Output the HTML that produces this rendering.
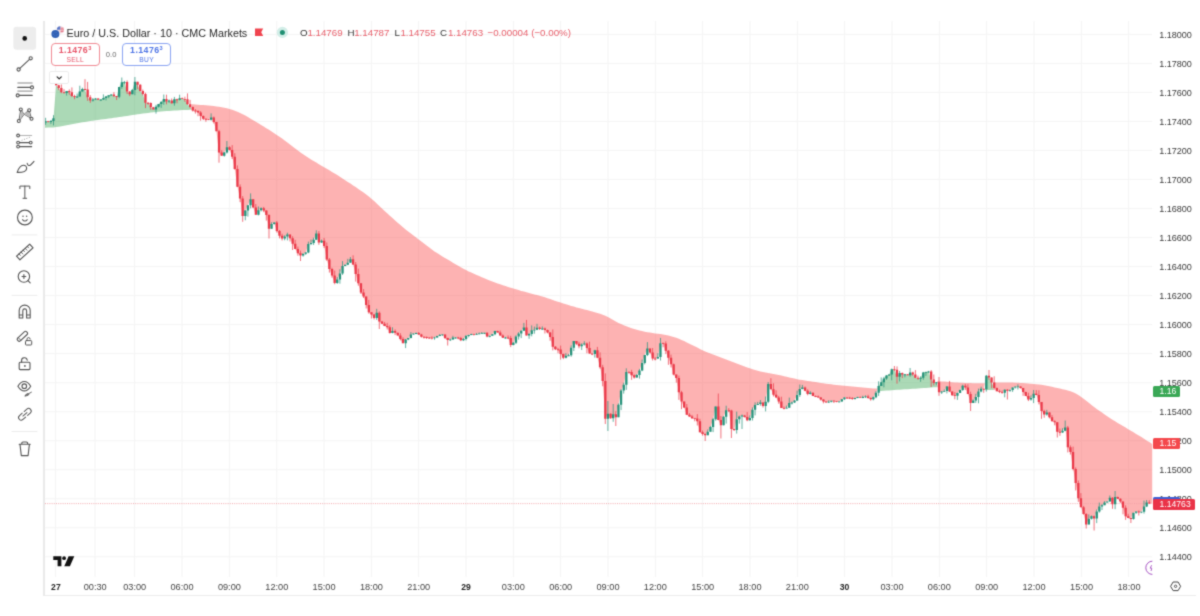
<!DOCTYPE html><html><head><meta charset="utf-8"><title>EURUSD</title><style>
*{margin:0;padding:0;box-sizing:border-box}
html,body{width:1200px;height:616px;background:#fff;overflow:hidden}
body{position:relative;font-family:"Liberation Sans",sans-serif;color:#333}
.wrap{position:absolute;left:0;top:0;width:1200px;height:616px;filter:url(#soft)}
.abs{position:absolute;white-space:nowrap;line-height:1}
.chart{position:absolute;left:0;top:0}
.sep{position:absolute;left:42.6px;top:21px;width:2.2px;height:575px;background:#e9e9e9}
.bot{position:absolute;left:44px;top:594.8px;width:1152px;height:1.2px;background:#ececec}
.pl{position:absolute;left:1159.2px;font-size:9.05px;color:#3a3a3a;line-height:10px;height:10px;letter-spacing:0}
.tl{position:absolute;top:581.6px;font-size:9.2px;color:#444;line-height:10px;height:10px;transform:translateX(-50%)}
.tl.b{font-weight:bold;color:#222;font-size:8.6px}
.tag{position:absolute;left:1152.6px;color:#fff;font-size:8.6px;border-radius:1.5px;line-height:11px;height:11px;padding-left:7px}
.tb{position:absolute;left:0;top:0}
.title{left:66.6px;top:27.8px;font-size:10.78px;color:#2b2b2b}
.ohlc{top:27.9px;font-size:9.75px}
.k{color:#333}.v{color:#e8606c}
.box{position:absolute;top:43.4px;height:22.4px;border-radius:4px;border:1px solid;background:#fff;text-align:center}
.box .p{position:absolute;left:0;right:0;top:1.7px;font-size:8.8px;font-weight:bold;line-height:9px;letter-spacing:0.42px}
.box .p sup{font-size:5.6px;vertical-align:top;position:relative;top:-0.6px;line-height:6px;font-weight:bold}
.box .l{position:absolute;left:0;right:0;top:11.3px;font-size:6.7px;line-height:7px;letter-spacing:0.3px}
.sell{left:50.7px;width:49px;border-color:#f08a93;color:#e8566a}
.buy{left:122.3px;width:48.6px;border-color:#8aa4f2;color:#4f75e6}
.collapse{position:absolute;left:49.4px;top:71.2px;width:19.8px;height:12.6px;border:1px solid #ececec;border-radius:2px;background:#fff}
</style></head><body><svg width="0" height="0" style="position:absolute"><filter id="soft" x="0" y="0" width="100%" height="100%" color-interpolation-filters="sRGB"><feConvolveMatrix order="3" kernelMatrix="0.03 0.10 0.03 0.10 0.48 0.10 0.03 0.10 0.03" divisor="1" edgeMode="duplicate" preserveAlpha="false"/></filter></svg><div class="wrap">
<svg class="chart" width="1200" height="616" viewBox="0 0 1200 616">
<path d="M55.6 21.0V577.0M95 21.0V577.0M134.6 21.0V577.0M182 21.0V577.0M229.3 21.0V577.0M276.7 21.0V577.0M324 21.0V577.0M371.3 21.0V577.0M418.6 21.0V577.0M466 21.0V577.0M513.3 21.0V577.0M560.6 21.0V577.0M608 21.0V577.0M655.3 21.0V577.0M702.6 21.0V577.0M750 21.0V577.0M797.3 21.0V577.0M844.6 21.0V577.0M892 21.0V577.0M939.3 21.0V577.0M986.6 21.0V577.0M1034 21.0V577.0M1081.3 21.0V577.0M1128.6 21.0V577.0M45.0 34.3H1152.2M45.0 63.3H1152.2M45.0 92.4H1152.2M45.0 121.4H1152.2M45.0 150.4H1152.2M45.0 179.4H1152.2M45.0 208.5H1152.2M45.0 237.5H1152.2M45.0 266.5H1152.2M45.0 295.6H1152.2M45.0 324.6H1152.2M45.0 353.6H1152.2M45.0 382.7H1152.2M45.0 411.7H1152.2M45.0 440.7H1152.2M45.0 469.8H1152.2M45.0 498.8H1152.2M45.0 527.8H1152.2M45.0 556.8H1152.2" stroke="#f4f4f4" stroke-width="1" fill="none"/>
<path d="M45 121.2L45.6 121.2L48.2 121.7L50.9 121L53.5 118.2L56.1 85.2L58.7 88.1L61.4 92.2L64 93L66.6 91L69.3 92.3L71.9 96.1L74.5 96.8L77.1 96.6L79.8 91.5L82.4 89L85 89.5L87.6 97.3L90.3 100.6L92.9 99.5L95.5 98.6L98.2 99.8L100.8 99.6L103.4 98L106 96.6L108.7 95.3L111.3 94.5L113.9 96L116.6 96.7L119.2 87.1L121.8 82.3L124.4 81.9L127.1 91.6L129.7 94.2L132.3 90L134.9 81.8L137.6 84.8L140.2 90.9L142.8 94.1L145.5 102.8L148.1 102.9L150.7 107.3L153.3 109.4L156 106.8L158.6 104L161.2 101.8L163.8 98.9L166.5 101.4L169.1 100.5L171.7 103.3L174.4 99.3L177 99.7L179.6 98.2L182.2 98.9L184.9 99.2L187.5 104.2L190.1 107L191.5 108.9L191.5 109.6L190.1 109.7L187.5 109.9L184.9 110L182.2 110.1L179.6 110.3L177 110.4L174.4 110.6L171.7 110.8L169.1 110.9L166.5 111.1L163.8 111.3L161.2 111.5L158.6 111.7L156 112L153.3 112.3L150.7 112.6L148.1 112.9L145.5 113.2L142.8 113.5L140.2 113.9L137.6 114.3L134.9 114.7L132.3 115.1L129.7 115.5L127.1 115.9L124.4 116.3L121.8 116.7L119.2 117.1L116.6 117.5L113.9 117.8L111.3 118.2L108.7 118.6L106 118.9L103.4 119.3L100.8 119.6L98.2 119.9L95.5 120.3L92.9 120.7L90.3 121L87.6 121.4L85 121.9L82.4 122.3L79.8 122.7L77.1 123.2L74.5 123.7L71.9 124.2L69.3 124.7L66.6 125.3L64 125.8L61.4 126.3L58.7 126.8L56.1 127.1L53.5 127.4L50.9 127.5L48.2 127.6L45.6 127.7L45 127.7Z" fill="rgba(76,175,100,0.47)"/>
<path d="M191.5 108.9L192.8 110.6L195.4 111L198 112.6L200.6 116L203.3 118.8L205.9 119.2L208.5 119.8L211.1 117.5L213.8 121.9L216.4 131.2L219 152.4L221.7 155.7L224.3 152.4L226.9 147.2L229.5 149.9L232.2 156.8L234.8 169L237.4 186.8L240.1 198.5L242.7 216.1L245.3 210.6L247.9 205.3L250.6 199.3L253.2 207.5L255.8 214.8L258.4 210.3L261.1 208.2L263.7 210.4L266.3 215.1L269 228.8L271.6 224L274.2 222.5L276.8 231L279.5 235.7L282.1 238.5L284.7 236.5L287.4 234.5L290 238.2L292.6 243.8L295.2 249.1L297.9 253.3L300.5 255.5L303.1 253.7L305.7 252.4L308.4 244L311 242.9L313.6 239.8L316.3 233.4L318.9 242.4L321.5 240.7L324.1 246.1L326.8 259.4L329.4 269L332 275.6L334.7 282.9L337.3 279.4L339.9 273.5L342.5 266.1L345.2 264.7L347.8 262.7L350.4 259.3L353.1 264.4L355.7 273.9L358.3 283.3L360.9 292.6L363.6 296.5L366.2 304.9L368.8 312.3L371.4 314.5L374.1 318L376.7 312.8L379.3 321.4L382 323.8L384.6 326.1L387.2 327.3L389.8 333L392.5 331.1L395.1 332.7L397.7 335.4L400.4 338.9L403 343.2L405.6 339.5L408.2 337.9L410.9 334.4L413.5 333.5L416.1 333.1L418.7 334.4L421.4 336.8L424 337.1L426.6 337.6L429.3 337.7L431.9 338.3L434.5 337.4L437.1 336L439.8 335L442.4 334.4L445 338L447.7 340.1L450.3 339.4L452.9 337.5L455.5 337.5L458.2 338L460.8 340.3L463.4 339L466 335.8L468.7 335L471.3 333.9L473.9 334.6L476.6 333.9L479.2 333.4L481.8 332.9L484.4 332.8L487.1 336.6L489.7 335.8L492.3 334.2L495 331L497.6 332.6L500.2 335.6L502.8 337.8L505.5 337.6L508.1 338L510.7 344.9L513.3 342.7L516 336.5L518.6 333.6L521.2 330.7L523.9 327.5L526.5 335.4L529.1 334L531.7 330.3L534.4 329.7L537 327.7L539.6 328.9L542.3 328.6L544.9 330L547.5 332.5L550.1 337L552.8 346.8L555.4 349.3L558 349.4L560.6 354.1L563.3 357.7L565.9 355.8L568.5 355.3L571.2 347.8L573.8 341L576.4 343.8L579 346.3L581.7 344.5L584.3 343.4L586.9 347.9L589.5 353.6L592.2 354.1L594.8 350.3L597.4 357.7L600.1 367.3L602.7 381.1L605.3 418.7L607.9 413.8L610.6 418.3L613.2 414.3L615.8 417.2L618.5 404.8L621.1 390.6L623.7 384.7L626.3 371.9L629 372L631.6 375.2L634.2 377.4L636.8 374.9L639.5 370.5L642.1 362.9L644.7 354.9L647.4 348.6L650 352.5L652.6 358.5L655.2 358.6L657.9 356.9L660.5 343.2L663.1 343.5L665.8 350.8L668.4 357.8L671 364.3L673.6 374.6L676.3 378L678.9 392.2L681.5 401.6L684.1 407.4L686.8 414.8L689.4 416.6L692 418.2L694.7 418.4L697.3 421.2L699.9 432.3L702.5 434L705.2 435.2L707.8 431.7L710.4 426.9L713.1 419.3L715.7 406.5L718.3 420.1L720.9 425.3L723.6 416.8L726.2 410.3L728.8 410.4L731.4 429.1L734.1 430L736.7 419.3L739.3 416.5L742 415.5L744.6 416.9L747.2 420.3L749.8 418.1L752.5 409.8L755.1 405L757.7 404.1L760.4 402.5L763 406.1L765.6 401.8L768.2 384.1L770.9 389.3L773.5 394.7L776.1 397.4L778.7 401.4L781.4 407.9L784 408.6L786.6 407.7L789.3 403.1L791.9 402.6L794.5 400.5L797.1 394.9L799.8 388.9L802.4 387.4L805 390.7L807.7 393.9L810.3 392.8L812.9 396L815.5 396.5L818.2 397.4L820.8 399.4L823.4 401.6L826 402.3L828.7 401.7L831.3 400.7L833.9 401.2L836.6 401.7L839.2 401.4L841.8 399.3L844.4 397.5L847.1 397.8L849.7 397.9L852.3 399.1L855 398L857.6 396.9L860.2 397.2L862.8 397.1L865.5 396.4L868.1 397.9L870.7 399.2L873.3 397.2L876 392.7L878 387.6L878 388.8L876 388.6L873.3 388.4L870.7 388.2L868.1 388L865.5 387.8L862.8 387.6L860.2 387.3L857.6 387.1L855 386.8L852.3 386.6L849.7 386.3L847.1 386L844.4 385.8L841.8 385.5L839.2 385.2L836.6 384.9L833.9 384.7L831.3 384.3L828.7 384L826 383.7L823.4 383.3L820.8 382.9L818.2 382.5L815.5 382.1L812.9 381.7L810.3 381.3L807.7 380.9L805 380.5L802.4 380.1L799.8 379.7L797.1 379.2L794.5 378.6L791.9 378.1L789.3 377.4L786.6 376.8L784 376.2L781.4 375.6L778.7 375L776.1 374.5L773.5 374L770.9 373.6L768.2 373.1L765.6 372.6L763 372L760.4 371.4L757.7 370.7L755.1 370L752.5 369.2L749.8 368.3L747.2 367.4L744.6 366.4L742 365.5L739.3 364.5L736.7 363.5L734.1 362.5L731.4 361.4L728.8 360.4L726.2 359.4L723.6 358.4L720.9 357.4L718.3 356.5L715.7 355.5L713.1 354.6L710.4 353.6L707.8 352.5L705.2 351.4L702.5 350.2L699.9 349L697.3 347.6L694.7 346.3L692 345L689.4 343.7L686.8 342.4L684.1 341.1L681.5 339.9L678.9 338.8L676.3 337.8L673.6 336.9L671 336.2L668.4 335.5L665.8 335L663.1 334.5L660.5 334.1L657.9 333.7L655.2 333.4L652.6 333.1L650 332.6L647.4 332.2L644.7 331.7L642.1 331.1L639.5 330.5L636.8 329.8L634.2 329L631.6 328.2L629 327.3L626.3 326.3L623.7 325.3L621.1 324.1L618.5 322.9L615.8 321.5L613.2 320L610.6 318.5L607.9 317.1L605.3 315.8L602.7 314.7L600.1 313.7L597.4 312.9L594.8 312.2L592.2 311.5L589.5 310.8L586.9 310.1L584.3 309.5L581.7 308.8L579 308.1L576.4 307.4L573.8 306.6L571.2 305.9L568.5 305.1L565.9 304.3L563.3 303.5L560.6 302.6L558 301.8L555.4 300.9L552.8 300L550.1 299.1L547.5 298.2L544.9 297.3L542.3 296.6L539.6 295.8L537 295.1L534.4 294.4L531.7 293.8L529.1 293.1L526.5 292.3L523.9 291.6L521.2 290.9L518.6 290.1L516 289.3L513.3 288.5L510.7 287.7L508.1 286.9L505.5 286L502.8 285.2L500.2 284.3L497.6 283.4L495 282.4L492.3 281.5L489.7 280.4L487.1 279.4L484.4 278.3L481.8 277.2L479.2 276.1L476.6 275L473.9 273.8L471.3 272.6L468.7 271.4L466 270.1L463.4 268.7L460.8 267.3L458.2 265.8L455.5 264.3L452.9 262.7L450.3 261.1L447.7 259.6L445 258L442.4 256.4L439.8 254.8L437.1 253.1L434.5 251.4L431.9 249.5L429.3 247.6L426.6 245.6L424 243.5L421.4 241.4L418.7 239.4L416.1 237.4L413.5 235.4L410.9 233.5L408.2 231.5L405.6 229.5L403 227.3L400.4 225.1L397.7 222.8L395.1 220.5L392.5 218.1L389.8 215.7L387.2 213.3L384.6 210.9L382 208.5L379.3 206L376.7 203.5L374.1 201.1L371.4 198.8L368.8 196.6L366.2 194.5L363.6 192.5L360.9 190.7L358.3 188.9L355.7 187.1L353.1 185.4L350.4 183.6L347.8 181.9L345.2 180.2L342.5 178.5L339.9 176.8L337.3 175.1L334.7 173.5L332 171.9L329.4 170.3L326.8 168.8L324.1 167.3L321.5 165.8L318.9 164.2L316.3 162.6L313.6 161L311 159.4L308.4 157.8L305.7 156.1L303.1 154.3L300.5 152.5L297.9 150.6L295.2 148.6L292.6 146.5L290 144.4L287.4 142.4L284.7 140.4L282.1 138.5L279.5 136.7L276.8 134.9L274.2 133.2L271.6 131.5L269 129.8L266.3 128.2L263.7 126.5L261.1 124.9L258.4 123.3L255.8 121.8L253.2 120.2L250.6 118.7L247.9 117.1L245.3 115.6L242.7 114.2L240.1 112.9L237.4 111.8L234.8 110.7L232.2 109.8L229.5 109L226.9 108.3L224.3 107.7L221.7 107.2L219 106.8L216.4 106.4L213.8 106.1L211.1 105.8L208.5 105.6L205.9 105.3L203.3 105.1L200.6 104.9L198 104.8L195.4 104.6L192.8 104.3L191.5 104.2Z" fill="rgba(251,80,80,0.44)"/>
<path d="M878 387.6L878.6 386L881.2 382.3L883.9 378.4L886.5 375.5L889.1 374.4L891.7 369.2L894.4 369.7L897 376.7L899.6 373.1L902.3 374.6L904.9 374.3L907.5 375.3L910.1 372.4L912.8 374.6L915.4 377.8L918 378.4L920.6 377.8L923.3 372.5L925.9 371.9L928.5 371.5L931.2 379.4L933.8 383.1L936.4 382.3L937.5 386.3L937.5 387.1L936.4 387.2L933.8 387.3L931.2 387.5L928.5 387.7L925.9 387.9L923.3 388.1L920.6 388.3L918 388.5L915.4 388.7L912.8 388.8L910.1 389L907.5 389.2L904.9 389.3L902.3 389.5L899.6 389.7L897 389.8L894.4 390L891.7 390.2L889.1 390.4L886.5 390.6L883.9 390.8L881.2 391L878.6 391.2L878 391.2Z" fill="rgba(76,175,100,0.47)"/>
<path d="M937.5 386.3L939 392.2L941.7 391.6L944.3 390.9L946.9 386.6L949.6 391.4L952.2 395.2L954.8 395.7L957.4 393L960.1 389.9L962.7 385.7L965.3 387.5L967.9 394.1L970.6 402.9L973.2 400.6L975.8 397.1L978.5 391.5L981.1 388.8L983.7 389.2L985.3 381.1L985.3 383.2L983.7 383.2L981.1 383.3L978.5 383.3L975.8 383.2L973.2 383.2L970.6 383.1L967.9 383L965.3 382.9L962.7 382.8L960.1 382.7L957.4 382.5L954.8 382.4L952.2 382.2L949.6 382.1L946.9 381.8L944.3 381.6L941.7 381.4L939 381.1L937.5 381Z" fill="rgba(251,80,80,0.44)"/>
<path d="M985.3 381.1L986.3 375.8L989 377.4L991.6 382.4L993.7 386.8L993.7 390L991.6 390L989 390L986.3 390L985.3 390Z" fill="rgba(76,175,100,0.47)"/>
<path d="M993.7 386.8L994.2 387.9L996.9 391.2L999.5 391.9L1002.1 392.8L1004.7 389.8L1007.4 390.8L1010 389.9L1012.6 387.4L1015.2 386.7L1017.9 386.4L1020.5 387.9L1023.1 392.1L1025.8 396L1028.4 399.6L1031 397.9L1033.6 393.7L1036.3 395.1L1038.9 402.1L1041.5 411.1L1044.2 414.5L1046.8 412.5L1049.4 417.3L1052 421.3L1054.7 422.2L1057.3 431.8L1059.9 432.6L1062.5 430.8L1065.2 427.4L1067.8 447.2L1070.4 451.9L1073.1 468.9L1075.7 482.9L1078.3 498.3L1080.9 507.2L1083.6 514L1086.2 524.4L1088.8 518.7L1091.5 516.2L1094.1 518.4L1096.7 511.6L1099.3 506.6L1102 505.2L1104.6 502.5L1107.2 501.5L1109.8 497.8L1112.5 504.2L1115.1 497L1117.7 498.7L1120.4 501.6L1123 507.7L1125.6 516.3L1128.2 518.1L1130.9 519L1133.5 512.8L1136.1 511.5L1138.8 512L1141.4 511.7L1144 506.5L1146.6 502.4L1149.3 503.6L1152.2 503.6L1152.2 444L1149.3 442.1L1146.6 440.4L1144 438.7L1141.4 437.1L1138.8 435.5L1136.1 433.9L1133.5 432.3L1130.9 430.8L1128.2 429.2L1125.6 427.6L1123 426.1L1120.4 424.5L1117.7 422.9L1115.1 421.3L1112.5 419.7L1109.8 418L1107.2 416.2L1104.6 414.5L1102 412.6L1099.3 410.8L1096.7 408.9L1094.1 406.9L1091.5 404.9L1088.8 402.8L1086.2 400.7L1083.6 398.7L1080.9 396.7L1078.3 394.9L1075.7 393.4L1073.1 392.2L1070.4 391.2L1067.8 390.4L1065.2 389.8L1062.5 389.2L1059.9 388.6L1057.3 388.1L1054.7 387.4L1052 386.8L1049.4 386.2L1046.8 385.7L1044.2 385.2L1041.5 384.8L1038.9 384.5L1036.3 384.2L1033.6 384L1031 383.7L1028.4 383.5L1025.8 383.3L1023.1 383.1L1020.5 382.9L1017.9 382.8L1015.2 382.7L1012.6 382.6L1010 382.6L1007.4 382.6L1004.7 382.6L1002.1 382.6L999.5 382.6L996.9 382.6L994.2 382.6L993.7 382.6Z" fill="rgba(251,80,80,0.44)"/>
<path d="M45.0 503.6H1152.2" stroke="#f2a0a6" stroke-width="0.9" stroke-dasharray="1 1.2" fill="none"/>
<path d="M48.2 120.9V122.4M56.1 79.7V85.2M58.7 84.8V90.2M61.4 84.5V93.2M64 89.1V93.7M69.3 89.4V94.7M71.9 87.4V97.1M74.5 94.7V99.2M85 79.2V89.9M87.6 81.9V100.8M90.3 95.1V102.8M98.2 98.3V99.8M113.9 92.1V97.1M116.6 96V100M127.1 80.4V94M129.7 91.2V96.1M137.6 81.8V89.2M140.2 84.1V91.5M142.8 89.5V95.5M145.5 92.7V108.1M148.1 102.2V104.7M150.7 102.4V109.8M153.3 106.9V109.4M166.5 94.7V104.3M171.7 98.5V103.7M177 98.7V103.3M182.2 97.6V99.1M184.9 96.7V101.9M187.5 93.4V104.7M190.1 99.9V108.3M192.8 106.5V111.5M195.4 109.1V113.6M198 110.3V116.2M200.6 111.1V120.7M203.3 115.5V120.1M205.9 118.5V121.8M208.5 119V120.1M213.8 116.5V123.5M216.4 121.9V131.2M219 129.8V162.7M221.7 150.3V155.7M229.5 146.3V150.3M232.2 145.1V159M234.8 153.2V169.7M237.4 165.4V186.8M240.1 184.4V202.1M242.7 196.1V221.8M253.2 199.3V207.5M255.8 204.1V214.8M263.7 206.9V212.2M266.3 210.4V220.6M269 214.3V238.5M276.8 221V232.5M279.5 230V238.4M282.1 233.7V240.5M290 234.5V241.5M292.6 236.2V250M295.2 239.8V249.1M297.9 246.6V255.7M300.5 250.6V261M318.9 231V244.8M324.1 237.9V248M326.8 242.5V260.9M329.4 258V272.6M332 267.7V277.7M334.7 270.6V284.3M353.1 255.3V265M355.7 262V281.6M358.3 268.6V285.7M360.9 283.3V294M363.6 289.1V298M366.2 296.5V308.5M368.8 299.9V313.7M371.4 312.3V318.5M374.1 314.1V319.5M379.3 311.4V329M382 321V323.8M384.6 321.9V326.1M387.2 322.8V329.5M389.8 325.3V333.6M395.1 329.4V335.1M397.7 332.7V335.4M400.4 333.2V340.4M403 337.2V343.2M418.7 332V334.9M421.4 333.8V337.6M424 336.5V338.6M426.6 336.5V339M429.3 337.2V338.8M431.9 336.3V339.5M445 334.4V339M447.7 337.7V345.5M458.2 336.8V339.3M460.8 336.8V341.1M473.9 333.8V335.5M487.1 332.4V337.3M497.6 330.7V332.6M500.2 330.5V335.6M502.8 334.4V337.9M508.1 335.4V339M510.7 335.8V347.1M526.5 319.9V335.4M539.6 326.6V330M544.9 327.5V333.5M547.5 329.6V333.3M550.1 332V340.8M552.8 329.4V350.4M555.4 346V350.1M558 347.8V353.3M560.6 345.6V359.6M563.3 353.6V359.2M576.4 341V345.1M579 341.8V348.3M586.9 342.4V353.3M589.5 341.7V353.6M592.2 353.6V355.1M597.4 346.9V357.7M600.1 352.4V368.7M602.7 364.9V386.3M605.3 373.4V424M610.6 413.3V418.8M615.8 411.2V426M629 371.3V373.8M631.6 369.8V379.8M634.2 374.4V378.6M650 348.6V353.4M652.6 348V360.5M655.2 357.1V360.4M663.1 342.6V347.3M665.8 341.3V354.1M668.4 350.1V364.8M671 354.6V367.5M673.6 363.6V375.3M676.3 374.6V382.7M678.9 375.6V399.9M681.5 390.8V409.2M684.1 401.6V408M686.8 404V414.8M689.4 413.1V416.9M692 414.9V418.9M694.7 418.2V421.3M697.3 414.1V425.5M699.9 418.8V432.3M702.5 430.6V435.7M705.2 433.4V441M718.3 393.5V420.1M720.9 416V438.5M728.8 408.1V412.2M731.4 409.7V438M734.1 428.8V431M744.6 414.9V417.5M747.2 412.1V421.2M763 402.5V407.6M770.9 378.2V389.3M773.5 383.3V396.5M776.1 390.3V397.4M778.7 395.9V403.7M781.4 396.7V407.9M784 406.4V409.4M805 386.5V391.1M807.7 389.3V395.3M812.9 392.4V396M815.5 395.5V397.1M818.2 395.5V397.4M820.8 397.1V400.6M823.4 399.2V403.4M826 401.5V402.5M833.9 400.3V403M836.6 401.2V402.3M847.1 397.3V399M849.7 396.8V399.1M852.3 397.2V399.8M860.2 396.5V397.9M868.1 394.8V398.7M870.7 397.5V400.7M894.4 366V371M897 366.4V383.7M902.3 372.5V378.1M907.5 374V375.3M912.8 371.7V375.9M915.4 370.1V378.2M918 375.6V379.7M931.2 370.1V387M933.8 374.5V385.4M939 377V395.8M949.6 380.9V392M952.2 391.4V395.7M954.8 392.1V399.3M965.3 383.9V390M967.9 384.3V394.1M970.6 391.7V411M983.7 388.8V392.8M989 370V379.8M991.6 377.4V388.2M994.2 376.3V389.8M996.9 387.5V391.2M999.5 389.7V393.1M1002.1 390.5V393.8M1007.4 389.2V399.5M1020.5 386.4V388.5M1023.1 387.9V395.8M1025.8 391.7V396M1028.4 392.7V401.1M1036.3 390.1V395.1M1038.9 390.3V404.3M1041.5 402.1V418.8M1044.2 409.7V417.7M1049.4 411.9V418.4M1052 415V421.3M1054.7 420.3V425.3M1057.3 422.2V437.5M1059.9 428.6V435.8M1067.8 425.9V452.4M1070.4 445.4V454.5M1073.1 446.6V470.3M1075.7 467.4V490.5M1078.3 480.5V501.9M1080.9 493.1V507.2M1083.6 505.9V514.6M1086.2 513.2V528.5M1094.1 515.5V530.5M1112.5 497.2V508.8M1117.7 496.6V499.1M1120.4 498.3V502.9M1123 501.6V514.3M1125.6 505.3V519.9M1128.2 513.8V518.1M1130.9 518.1V523M1138.8 510.5V515.5M1149.3 500.2V503.9" stroke="#ea3a4a" stroke-width="0.9" opacity="0.8" fill="none"/>
<path d="M45.6 117.8V124.8M50.9 120V124.1M53.5 115.2V125.4M66.6 91V95.6M77.1 93.5V97.8M79.8 85.7V96.6M82.4 87.7V91.5M92.9 98V101.6M95.5 98.3V99.8M100.8 99.3V100.8M103.4 94.4V99.9M106 96V100.4M108.7 95.3V98.2M111.3 94.5V95.7M119.2 87.1V98.2M121.8 77.5V88.9M124.4 80.9V84.2M132.3 89.1V94.2M134.9 77V95.3M156 104.8V113.6M158.6 104V107.6M161.2 101.8V107.9M163.8 94.5V104.8M169.1 99.5V102.9M174.4 96.9V105.7M179.6 94.7V100.4M211.1 113.4V120.5M224.3 152V156.6M226.9 141V153.5M245.3 210.1V220.3M247.9 205.3V216.6M250.6 193.4V208.3M258.4 206.5V215.4M261.1 207.4V211.5M271.6 222.2V228.8M274.2 222.5V224.6M284.7 235.3V240.3M287.4 232.7V240.4M303.1 253.7V256.7M305.7 252.1V254.8M308.4 241.6V253.2M311 239.6V245.1M313.6 237.7V245M316.3 230.3V239.8M321.5 239.6V243M337.3 277.1V283.8M339.9 269.2V283.7M342.5 261.1V274.9M345.2 264.7V266.1M347.8 258.8V265.1M350.4 257V262.7M376.7 308.8V319.9M392.5 327.3V333.3M405.6 339V348.1M408.2 337.9V340.2M410.9 332.1V338.3M413.5 333.5V334.7M416.1 332.6V334.1M434.5 336.8V339.7M437.1 335.8V337.7M439.8 334V336.1M442.4 334.3V335.8M450.3 338.7V341M452.9 335.8V339.7M455.5 337.2V338.6M463.4 338V341M466 335.6V340.5M468.7 334.8V337.4M471.3 333.8V335.2M476.6 332.9V334.9M479.2 332.5V334.3M481.8 332V333.8M484.4 332.8V334M489.7 335.8V337.3M492.3 334.2V335.8M495 330.8V335.2M505.5 336.9V338.6M513.3 342V345.3M516 335.3V344M518.6 332.2V339.6M521.2 330.3V338.1M523.9 322.9V330.7M529.1 333V338.8M531.7 325.4V336.3M534.4 326.6V333.7M537 323.8V330.1M542.3 326.4V330M565.9 353.2V358.4M568.5 353.9V356.2M571.2 345.4V356.7M573.8 341V351M581.7 343.3V350M584.3 341.2V345.5M594.8 349.8V357.6M607.9 401V431M613.2 404V421.8M618.5 403.4V417.2M621.1 389.2V410.1M623.7 382.7V393.6M626.3 368.3V389.9M636.8 374.1V377.8M639.5 368.8V378.6M642.1 359.5V371.2M644.7 354.9V364.4M647.4 342.1V356.1M657.9 353.2V358.9M660.5 337.9V360.5M707.8 429.4V435.2M710.4 425.9V431.7M713.1 417.9V432.1M715.7 406.5V420.7M723.6 416.1V425.3M726.2 405.7V423.6M736.7 411.6V433.6M739.3 415.7V423.6M742 414.5V429M749.8 415.4V420.7M752.5 407.4V420.5M755.1 402.4V415.4M757.7 401.9V405M760.4 400V405.7M765.6 396.5V411.4M768.2 382V403.2M786.6 405.5V408.6M789.3 397.6V407.7M791.9 401.6V404.5M794.5 400.1V403M797.1 390.7V401M799.8 384.5V396.9M802.4 384.9V389.3M810.3 391.2V394.5M828.7 400.3V403M831.3 400.7V402.4M839.2 401.4V402.4M841.8 399.1V401.7M844.4 397.3V400M855 397.8V399.5M857.6 396.8V398.2M862.8 395.7V398.2M865.5 395.4V398M873.3 396.5V400.4M876 391V398.2M878.6 381.3V395.9M881.2 377.4V386M883.9 376.8V387.4M886.5 375.1V379.8M889.1 374.4V375.8M891.7 368.6V380.3M899.6 370.9V381.5M904.9 374.3V377.4M910.1 368V376.7M920.6 376.3V381.8M923.3 371.9V379.7M925.9 371.6V375.9M928.5 370.9V372.7M936.4 382V385.3M941.7 391.1V394M944.3 389.4V391.8M946.9 386.1V393.4M957.4 392.6V399.9M960.1 389.5V393M962.7 384.7V390.9M973.2 399.4V402.9M975.8 393.8V402.9M978.5 388.6V403.3M981.1 386.7V392.3M986.3 375V391.6M1004.7 389.4V397.3M1010 389.4V391.8M1012.6 387.4V391.9M1015.2 386.1V388.6M1017.9 384.3V389.5M1031 395.4V400.7M1033.6 390V403.1M1046.8 409.8V415.7M1062.5 428.2V432.9M1065.2 420.5V431.2M1088.8 514.4V524.4M1091.5 515.5V519.5M1096.7 509.4V523.1M1099.3 502.6V512.7M1102 504.1V510M1104.6 501.1V505.2M1107.2 501.5V502.8M1109.8 495.5V501.5M1115.1 491V509.2M1133.5 512.8V519.6M1136.1 511.5V513.9M1141.4 511.7V513.2M1144 500.6V513.6M1146.6 500V507" stroke="#26927a" stroke-width="0.9" opacity="0.8" fill="none"/>
<path d="M47.1 121.2h2.3V122.1h-2.3ZM55 79.7h2.3V85.2h-2.3ZM57.6 85.2h2.3V88.1h-2.3ZM60.2 88.1h2.3V92.2h-2.3ZM62.8 92.2h2.3V93.1h-2.3ZM68.1 91h2.3V92.3h-2.3ZM70.7 92.3h2.3V96.1h-2.3ZM73.4 96.1h2.3V97h-2.3ZM83.9 89h2.3V89.9h-2.3ZM86.5 89.5h2.3V97.3h-2.3ZM89.1 97.3h2.3V100.6h-2.3ZM97 98.6h2.3V99.8h-2.3ZM112.8 94.5h2.3V96h-2.3ZM115.4 96h2.3V96.9h-2.3ZM125.9 81.9h2.3V91.6h-2.3ZM128.5 91.6h2.3V94.2h-2.3ZM136.4 81.8h2.3V84.8h-2.3ZM139.1 84.8h2.3V90.9h-2.3ZM141.7 90.9h2.3V94.1h-2.3ZM144.3 94.1h2.3V102.8h-2.3ZM146.9 102.8h2.3V103.7h-2.3ZM149.6 102.9h2.3V107.3h-2.3ZM152.2 107.3h2.3V109.4h-2.3ZM165.3 98.9h2.3V101.4h-2.3ZM170.6 100.5h2.3V103.3h-2.3ZM175.8 99.3h2.3V100.2h-2.3ZM181.1 98.2h2.3V99.1h-2.3ZM183.7 98.9h2.3V99.8h-2.3ZM186.3 99.2h2.3V104.2h-2.3ZM189 104.2h2.3V107h-2.3ZM191.6 107h2.3V110.6h-2.3ZM194.2 110.6h2.3V111.5h-2.3ZM196.9 111h2.3V112.6h-2.3ZM199.5 112.6h2.3V116h-2.3ZM202.1 116h2.3V118.8h-2.3ZM204.7 118.8h2.3V119.7h-2.3ZM207.4 119.2h2.3V120.1h-2.3ZM212.6 117.5h2.3V121.9h-2.3ZM215.3 121.9h2.3V131.2h-2.3ZM217.9 131.2h2.3V152.4h-2.3ZM220.5 152.4h2.3V155.7h-2.3ZM228.4 147.2h2.3V149.9h-2.3ZM231 149.9h2.3V156.8h-2.3ZM233.6 156.8h2.3V169h-2.3ZM236.3 169h2.3V186.8h-2.3ZM238.9 186.8h2.3V198.5h-2.3ZM241.5 198.5h2.3V216.1h-2.3ZM252 199.3h2.3V207.5h-2.3ZM254.7 207.5h2.3V214.8h-2.3ZM262.6 208.2h2.3V210.4h-2.3ZM265.2 210.4h2.3V215.1h-2.3ZM267.8 215.1h2.3V228.8h-2.3ZM275.7 222.5h2.3V231h-2.3ZM278.3 231h2.3V235.7h-2.3ZM280.9 235.7h2.3V238.5h-2.3ZM288.8 234.5h2.3V238.2h-2.3ZM291.5 238.2h2.3V243.8h-2.3ZM294.1 243.8h2.3V249.1h-2.3ZM296.7 249.1h2.3V253.3h-2.3ZM299.3 253.3h2.3V255.5h-2.3ZM317.7 233.4h2.3V242.4h-2.3ZM323 240.7h2.3V246.1h-2.3ZM325.6 246.1h2.3V259.4h-2.3ZM328.2 259.4h2.3V269h-2.3ZM330.9 269h2.3V275.6h-2.3ZM333.5 275.6h2.3V282.9h-2.3ZM351.9 259.3h2.3V264.4h-2.3ZM354.5 264.4h2.3V273.9h-2.3ZM357.2 273.9h2.3V283.3h-2.3ZM359.8 283.3h2.3V292.6h-2.3ZM362.4 292.6h2.3V296.5h-2.3ZM365 296.5h2.3V304.9h-2.3ZM367.7 304.9h2.3V312.3h-2.3ZM370.3 312.3h2.3V314.5h-2.3ZM372.9 314.5h2.3V318h-2.3ZM378.2 312.8h2.3V321.4h-2.3ZM380.8 321.4h2.3V323.8h-2.3ZM383.4 323.8h2.3V326.1h-2.3ZM386.1 326.1h2.3V327.3h-2.3ZM388.7 327.3h2.3V333h-2.3ZM393.9 331.1h2.3V332.7h-2.3ZM396.6 332.7h2.3V335.4h-2.3ZM399.2 335.4h2.3V338.9h-2.3ZM401.8 338.9h2.3V343.2h-2.3ZM417.6 333.1h2.3V334.4h-2.3ZM420.2 334.4h2.3V336.8h-2.3ZM422.9 336.8h2.3V337.7h-2.3ZM425.5 337.1h2.3V338h-2.3ZM428.1 337.6h2.3V338.5h-2.3ZM430.7 337.7h2.3V338.6h-2.3ZM443.9 334.4h2.3V338h-2.3ZM446.5 338h2.3V340.1h-2.3ZM457 337.5h2.3V338.4h-2.3ZM459.6 338h2.3V340.3h-2.3ZM472.8 333.9h2.3V334.8h-2.3ZM485.9 332.8h2.3V336.6h-2.3ZM496.4 331h2.3V332.6h-2.3ZM499.1 332.6h2.3V335.6h-2.3ZM501.7 335.6h2.3V337.8h-2.3ZM506.9 337.6h2.3V338.5h-2.3ZM509.6 338h2.3V344.9h-2.3ZM525.3 327.5h2.3V335.4h-2.3ZM538.5 327.7h2.3V328.9h-2.3ZM543.7 328.6h2.3V330h-2.3ZM546.4 330h2.3V332.5h-2.3ZM549 332.5h2.3V337h-2.3ZM551.6 337h2.3V346.8h-2.3ZM554.2 346.8h2.3V349.3h-2.3ZM556.9 349.3h2.3V350.2h-2.3ZM559.5 349.4h2.3V354.1h-2.3ZM562.1 354.1h2.3V357.7h-2.3ZM575.3 341h2.3V343.8h-2.3ZM577.9 343.8h2.3V346.3h-2.3ZM585.8 343.4h2.3V347.9h-2.3ZM588.4 347.9h2.3V353.6h-2.3ZM591 353.6h2.3V354.5h-2.3ZM596.3 350.3h2.3V357.7h-2.3ZM598.9 357.7h2.3V367.3h-2.3ZM601.5 367.3h2.3V381.1h-2.3ZM604.2 381.1h2.3V418.7h-2.3ZM609.4 413.8h2.3V418.3h-2.3ZM614.7 414.3h2.3V417.2h-2.3ZM627.8 371.9h2.3V372.8h-2.3ZM630.4 372h2.3V375.2h-2.3ZM633.1 375.2h2.3V377.4h-2.3ZM648.8 348.6h2.3V352.5h-2.3ZM651.5 352.5h2.3V358.5h-2.3ZM654.1 358.5h2.3V359.4h-2.3ZM662 343.2h2.3V344.1h-2.3ZM664.6 343.5h2.3V350.8h-2.3ZM667.2 350.8h2.3V357.8h-2.3ZM669.9 357.8h2.3V364.3h-2.3ZM672.5 364.3h2.3V374.6h-2.3ZM675.1 374.6h2.3V378h-2.3ZM677.7 378h2.3V392.2h-2.3ZM680.4 392.2h2.3V401.6h-2.3ZM683 401.6h2.3V407.4h-2.3ZM685.6 407.4h2.3V414.8h-2.3ZM688.3 414.8h2.3V416.6h-2.3ZM690.9 416.6h2.3V418.2h-2.3ZM693.5 418.2h2.3V419.1h-2.3ZM696.1 418.4h2.3V421.2h-2.3ZM698.8 421.2h2.3V432.3h-2.3ZM701.4 432.3h2.3V434h-2.3ZM704 434h2.3V435.2h-2.3ZM717.2 406.5h2.3V420.1h-2.3ZM719.8 420.1h2.3V425.3h-2.3ZM727.7 410.3h2.3V411.2h-2.3ZM730.3 410.4h2.3V429.1h-2.3ZM732.9 429.1h2.3V430h-2.3ZM743.4 415.5h2.3V416.9h-2.3ZM746.1 416.9h2.3V420.3h-2.3ZM761.8 402.5h2.3V406.1h-2.3ZM769.7 384.1h2.3V389.3h-2.3ZM772.3 389.3h2.3V394.7h-2.3ZM775 394.7h2.3V397.4h-2.3ZM777.6 397.4h2.3V401.4h-2.3ZM780.2 401.4h2.3V407.9h-2.3ZM782.9 407.9h2.3V408.8h-2.3ZM803.9 387.4h2.3V390.7h-2.3ZM806.5 390.7h2.3V393.9h-2.3ZM811.8 392.8h2.3V396h-2.3ZM814.4 396h2.3V396.9h-2.3ZM817 396.5h2.3V397.4h-2.3ZM819.6 397.4h2.3V399.4h-2.3ZM822.3 399.4h2.3V401.6h-2.3ZM824.9 401.6h2.3V402.5h-2.3ZM832.8 400.7h2.3V401.6h-2.3ZM835.4 401.2h2.3V402.1h-2.3ZM845.9 397.5h2.3V398.4h-2.3ZM848.5 397.8h2.3V398.7h-2.3ZM851.2 397.9h2.3V399.1h-2.3ZM859.1 396.9h2.3V397.8h-2.3ZM866.9 396.4h2.3V397.9h-2.3ZM869.6 397.9h2.3V399.2h-2.3ZM893.2 369.2h2.3V370.1h-2.3ZM895.8 369.7h2.3V376.7h-2.3ZM901.1 373.1h2.3V374.6h-2.3ZM906.4 374.3h2.3V375.3h-2.3ZM911.6 372.4h2.3V374.6h-2.3ZM914.2 374.6h2.3V377.8h-2.3ZM916.9 377.8h2.3V378.7h-2.3ZM930 371.5h2.3V379.4h-2.3ZM932.6 379.4h2.3V383.1h-2.3ZM937.9 382.3h2.3V392.2h-2.3ZM948.4 386.6h2.3V391.4h-2.3ZM951 391.4h2.3V395.2h-2.3ZM953.7 395.2h2.3V396.1h-2.3ZM964.2 385.7h2.3V387.5h-2.3ZM966.8 387.5h2.3V394.1h-2.3ZM969.4 394.1h2.3V402.9h-2.3ZM982.6 388.8h2.3V389.7h-2.3ZM987.8 375.8h2.3V377.4h-2.3ZM990.4 377.4h2.3V382.4h-2.3ZM993.1 382.4h2.3V387.9h-2.3ZM995.7 387.9h2.3V391.2h-2.3ZM998.3 391.2h2.3V392.1h-2.3ZM1001 391.9h2.3V392.8h-2.3ZM1006.2 389.8h2.3V390.8h-2.3ZM1019.4 386.4h2.3V387.9h-2.3ZM1022 387.9h2.3V392.1h-2.3ZM1024.6 392.1h2.3V396h-2.3ZM1027.2 396h2.3V399.6h-2.3ZM1035.1 393.7h2.3V395.1h-2.3ZM1037.7 395.1h2.3V402.1h-2.3ZM1040.4 402.1h2.3V411.1h-2.3ZM1043 411.1h2.3V414.5h-2.3ZM1048.3 412.5h2.3V417.3h-2.3ZM1050.9 417.3h2.3V421.3h-2.3ZM1053.5 421.3h2.3V422.2h-2.3ZM1056.1 422.2h2.3V431.8h-2.3ZM1058.8 431.8h2.3V432.7h-2.3ZM1066.7 427.4h2.3V447.2h-2.3ZM1069.3 447.2h2.3V451.9h-2.3ZM1071.9 451.9h2.3V468.9h-2.3ZM1074.5 468.9h2.3V482.9h-2.3ZM1077.2 482.9h2.3V498.3h-2.3ZM1079.8 498.3h2.3V507.2h-2.3ZM1082.4 507.2h2.3V514h-2.3ZM1085 514h2.3V524.4h-2.3ZM1092.9 516.2h2.3V518.4h-2.3ZM1111.3 497.8h2.3V504.2h-2.3ZM1116.6 497h2.3V498.7h-2.3ZM1119.2 498.7h2.3V501.6h-2.3ZM1121.8 501.6h2.3V507.7h-2.3ZM1124.5 507.7h2.3V516.3h-2.3ZM1127.1 516.3h2.3V518.1h-2.3ZM1129.7 518.1h2.3V519h-2.3ZM1137.6 511.5h2.3V512.4h-2.3ZM1148.1 502.4h2.3V503.6h-2.3Z" fill="#ea3a4a"/>
<path d="M44.5 121.2h2.3V122.5h-2.3ZM49.7 121h2.3V121.9h-2.3ZM52.3 118.2h2.3V121h-2.3ZM65.5 91h2.3V93h-2.3ZM76 96.6h2.3V97.5h-2.3ZM78.6 91.5h2.3V96.6h-2.3ZM81.2 89h2.3V91.5h-2.3ZM91.8 99.5h2.3V100.6h-2.3ZM94.4 98.6h2.3V99.5h-2.3ZM99.6 99.6h2.3V100.5h-2.3ZM102.3 98h2.3V99.6h-2.3ZM104.9 96.6h2.3V98h-2.3ZM107.5 95.3h2.3V96.6h-2.3ZM110.1 94.5h2.3V95.4h-2.3ZM118 87.1h2.3V96.7h-2.3ZM120.7 82.3h2.3V87.1h-2.3ZM123.3 81.9h2.3V82.8h-2.3ZM131.2 90h2.3V94.2h-2.3ZM133.8 81.8h2.3V90h-2.3ZM154.8 106.8h2.3V109.4h-2.3ZM157.4 104h2.3V106.8h-2.3ZM160.1 101.8h2.3V104h-2.3ZM162.7 98.9h2.3V101.8h-2.3ZM168 100.5h2.3V101.4h-2.3ZM173.2 99.3h2.3V103.3h-2.3ZM178.5 98.2h2.3V99.7h-2.3ZM210 117.5h2.3V119.8h-2.3ZM223.1 152.4h2.3V155.7h-2.3ZM225.8 147.2h2.3V152.4h-2.3ZM244.2 210.6h2.3V216.1h-2.3ZM246.8 205.3h2.3V210.6h-2.3ZM249.4 199.3h2.3V205.3h-2.3ZM257.3 210.3h2.3V214.8h-2.3ZM259.9 208.2h2.3V210.3h-2.3ZM270.4 224h2.3V228.8h-2.3ZM273.1 222.5h2.3V224h-2.3ZM283.6 236.5h2.3V238.5h-2.3ZM286.2 234.5h2.3V236.5h-2.3ZM302 253.7h2.3V255.5h-2.3ZM304.6 252.4h2.3V253.7h-2.3ZM307.2 244h2.3V252.4h-2.3ZM309.9 242.9h2.3V244h-2.3ZM312.5 239.8h2.3V242.9h-2.3ZM315.1 233.4h2.3V239.8h-2.3ZM320.4 240.7h2.3V242.4h-2.3ZM336.1 279.4h2.3V282.9h-2.3ZM338.8 273.5h2.3V279.4h-2.3ZM341.4 266.1h2.3V273.5h-2.3ZM344 264.7h2.3V266.1h-2.3ZM346.6 262.7h2.3V264.7h-2.3ZM349.3 259.3h2.3V262.7h-2.3ZM375.6 312.8h2.3V318h-2.3ZM391.3 331.1h2.3V333h-2.3ZM404.5 339.5h2.3V343.2h-2.3ZM407.1 337.9h2.3V339.5h-2.3ZM409.7 334.4h2.3V337.9h-2.3ZM412.3 333.5h2.3V334.4h-2.3ZM415 333.1h2.3V334h-2.3ZM433.4 337.4h2.3V338.3h-2.3ZM436 336h2.3V337.4h-2.3ZM438.6 335h2.3V336h-2.3ZM441.2 334.4h2.3V335.3h-2.3ZM449.1 339.4h2.3V340.3h-2.3ZM451.8 337.5h2.3V339.4h-2.3ZM454.4 337.5h2.3V338.4h-2.3ZM462.3 339h2.3V340.3h-2.3ZM464.9 335.8h2.3V339h-2.3ZM467.5 335h2.3V335.9h-2.3ZM470.2 333.9h2.3V335h-2.3ZM475.4 333.9h2.3V334.8h-2.3ZM478 333.4h2.3V334.3h-2.3ZM480.7 332.9h2.3V333.8h-2.3ZM483.3 332.8h2.3V333.7h-2.3ZM488.5 335.8h2.3V336.7h-2.3ZM491.2 334.2h2.3V335.8h-2.3ZM493.8 331h2.3V334.2h-2.3ZM504.3 337.6h2.3V338.5h-2.3ZM512.2 342.7h2.3V344.9h-2.3ZM514.8 336.5h2.3V342.7h-2.3ZM517.5 333.6h2.3V336.5h-2.3ZM520.1 330.7h2.3V333.6h-2.3ZM522.7 327.5h2.3V330.7h-2.3ZM528 334h2.3V335.4h-2.3ZM530.6 330.3h2.3V334h-2.3ZM533.2 329.7h2.3V330.6h-2.3ZM535.8 327.7h2.3V329.7h-2.3ZM541.1 328.6h2.3V329.5h-2.3ZM564.8 355.8h2.3V357.7h-2.3ZM567.4 355.3h2.3V356.2h-2.3ZM570 347.8h2.3V355.3h-2.3ZM572.6 341h2.3V347.8h-2.3ZM580.5 344.5h2.3V346.3h-2.3ZM583.1 343.4h2.3V344.5h-2.3ZM593.7 350.3h2.3V354.1h-2.3ZM606.8 413.8h2.3V418.7h-2.3ZM612 414.3h2.3V418.3h-2.3ZM617.3 404.8h2.3V417.2h-2.3ZM619.9 390.6h2.3V404.8h-2.3ZM622.6 384.7h2.3V390.6h-2.3ZM625.2 371.9h2.3V384.7h-2.3ZM635.7 374.9h2.3V377.4h-2.3ZM638.3 370.5h2.3V374.9h-2.3ZM641 362.9h2.3V370.5h-2.3ZM643.6 354.9h2.3V362.9h-2.3ZM646.2 348.6h2.3V354.9h-2.3ZM656.7 356.9h2.3V358.6h-2.3ZM659.3 343.2h2.3V356.9h-2.3ZM706.6 431.7h2.3V435.2h-2.3ZM709.3 426.9h2.3V431.7h-2.3ZM711.9 419.3h2.3V426.9h-2.3ZM714.5 406.5h2.3V419.3h-2.3ZM722.4 416.8h2.3V425.3h-2.3ZM725 410.3h2.3V416.8h-2.3ZM735.6 419.3h2.3V430h-2.3ZM738.2 416.5h2.3V419.3h-2.3ZM740.8 415.5h2.3V416.5h-2.3ZM748.7 418.1h2.3V420.3h-2.3ZM751.3 409.8h2.3V418.1h-2.3ZM753.9 405h2.3V409.8h-2.3ZM756.6 404.1h2.3V405h-2.3ZM759.2 402.5h2.3V404.1h-2.3ZM764.5 401.8h2.3V406.1h-2.3ZM767.1 384.1h2.3V401.8h-2.3ZM785.5 407.7h2.3V408.6h-2.3ZM788.1 403.1h2.3V407.7h-2.3ZM790.7 402.6h2.3V403.5h-2.3ZM793.4 400.5h2.3V402.6h-2.3ZM796 394.9h2.3V400.5h-2.3ZM798.6 388.9h2.3V394.9h-2.3ZM801.2 387.4h2.3V388.9h-2.3ZM809.1 392.8h2.3V393.9h-2.3ZM827.5 401.7h2.3V402.6h-2.3ZM830.2 400.7h2.3V401.7h-2.3ZM838 401.4h2.3V402.3h-2.3ZM840.7 399.3h2.3V401.4h-2.3ZM843.3 397.5h2.3V399.3h-2.3ZM853.8 398h2.3V399.1h-2.3ZM856.4 396.9h2.3V398h-2.3ZM861.7 397.1h2.3V398h-2.3ZM864.3 396.4h2.3V397.3h-2.3ZM872.2 397.2h2.3V399.2h-2.3ZM874.8 392.7h2.3V397.2h-2.3ZM877.5 386h2.3V392.7h-2.3ZM880.1 382.3h2.3V386h-2.3ZM882.7 378.4h2.3V382.3h-2.3ZM885.3 375.5h2.3V378.4h-2.3ZM888 374.4h2.3V375.5h-2.3ZM890.6 369.2h2.3V374.4h-2.3ZM898.5 373.1h2.3V376.7h-2.3ZM903.7 374.3h2.3V375.2h-2.3ZM909 372.4h2.3V375.3h-2.3ZM919.5 377.8h2.3V378.7h-2.3ZM922.1 372.5h2.3V377.8h-2.3ZM924.8 371.9h2.3V372.8h-2.3ZM927.4 371.5h2.3V372.4h-2.3ZM935.3 382.3h2.3V383.2h-2.3ZM940.5 391.6h2.3V392.5h-2.3ZM943.1 390.9h2.3V391.8h-2.3ZM945.8 386.6h2.3V390.9h-2.3ZM956.3 393h2.3V395.7h-2.3ZM958.9 389.9h2.3V393h-2.3ZM961.5 385.7h2.3V389.9h-2.3ZM972.1 400.6h2.3V402.9h-2.3ZM974.7 397.1h2.3V400.6h-2.3ZM977.3 391.5h2.3V397.1h-2.3ZM979.9 388.8h2.3V391.5h-2.3ZM985.2 375.8h2.3V389.2h-2.3ZM1003.6 389.8h2.3V392.8h-2.3ZM1008.8 389.9h2.3V390.8h-2.3ZM1011.5 387.4h2.3V389.9h-2.3ZM1014.1 386.7h2.3V387.6h-2.3ZM1016.7 386.4h2.3V387.3h-2.3ZM1029.9 397.9h2.3V399.6h-2.3ZM1032.5 393.7h2.3V397.9h-2.3ZM1045.6 412.5h2.3V414.5h-2.3ZM1061.4 430.8h2.3V432.6h-2.3ZM1064 427.4h2.3V430.8h-2.3ZM1087.7 518.7h2.3V524.4h-2.3ZM1090.3 516.2h2.3V518.7h-2.3ZM1095.6 511.6h2.3V518.4h-2.3ZM1098.2 506.6h2.3V511.6h-2.3ZM1100.8 505.2h2.3V506.6h-2.3ZM1103.4 502.5h2.3V505.2h-2.3ZM1106.1 501.5h2.3V502.5h-2.3ZM1108.7 497.8h2.3V501.5h-2.3ZM1114 497h2.3V504.2h-2.3ZM1132.3 512.8h2.3V519h-2.3ZM1135 511.5h2.3V512.8h-2.3ZM1140.2 511.7h2.3V512.6h-2.3ZM1142.9 506.5h2.3V511.7h-2.3ZM1145.5 502.4h2.3V506.5h-2.3Z" fill="#26927a"/>
</svg>
<div class="sep"></div><div class="bot"></div>
<svg class="tb" width="46" height="616" viewBox="0 0 46 616" fill="none" stroke="#555" stroke-width="1.1" stroke-linecap="round" stroke-linejoin="round"><rect x="13.4" y="26.8" width="22.7" height="22.9" rx="3.2" fill="#ededed" stroke="none"/><circle cx="24.7" cy="38.4" r="2.3" fill="#111" stroke="none"/><path d="M19.8 68.4L29.5 59.4"/><circle cx="30.7" cy="58.3" r="1.6"/><circle cx="18.6" cy="69.5" r="1.6"/><path d="M17.8 83H32.2M17.8 91.1H32.2" stroke-width="0.7"/><path d="M17.8 87.4H30.4M19.4 95.4H32.2" stroke-width="1.2"/><circle cx="32" cy="87.4" r="1.5"/><circle cx="17.7" cy="95.4" r="1.5"/><path d="M19.1 119.5L20.5 111M21.5 110.7L24.2 114.3L28 110.9M29.6 111.7L31.1 117.4M19.9 119.9L24.2 114.3L30.4 117.9" stroke-width="0.9"/><path d="M21.3 111.5L24.2 114.3L20 119.2ZM24.2 114.3L28.6 111.3L30.6 117.6Z" fill="#bbb" stroke="none"/><circle cx="20.8" cy="109.5" r="1.5"/><circle cx="29.2" cy="110.2" r="1.5"/><circle cx="31.5" cy="118.8" r="1.5"/><circle cx="18.8" cy="121" r="1.5"/><path d="M19.6 135.5H31.7" stroke-width="0.7" opacity="0.65"/><path d="M19.6 142.6H29.2M19.6 146.6H31.7" stroke-width="1.05"/><path d="M21.6 140.4L30.4 137" stroke-width="0.8" stroke-dasharray="1 1.6" stroke-linecap="butt" opacity="0.7"/><circle cx="18.1" cy="135.5" r="1.4"/><circle cx="18.1" cy="142.6" r="1.4"/><circle cx="18.1" cy="146.6" r="1.4"/><circle cx="30.7" cy="142.6" r="1.4"/><path d="M17.2 172.4C18.6 168 20.6 165.2 23.4 165.2C25.6 165.2 27 166.8 26.6 168.8C26 171.6 23.4 172.6 17.2 172.4Z"/><path d="M27.2 163.2C27.4 165 28.6 165.8 29.8 165.4C31.4 164.6 32.6 163 34 161.4"/><path d="M19.9 188.6V186.1H29.8V188.6M24.85 186.1V198.1M23 198.3H26.7" stroke-width="1"/><circle cx="24.9" cy="217.5" r="7.4" stroke-width="1.15"/><circle cx="23" cy="216.3" r="0.75" fill="#555" stroke="none"/><circle cx="26.6" cy="216.3" r="0.75" fill="#555" stroke="none"/><path d="M22.6 219.7C23.6 221.5 26.2 221.5 27.2 219.7"/><path d="M12 234.9H37M12 295.4H37M12 431.5H37" stroke="#ececec" stroke-width="1"/><g transform="translate(24.8 252) rotate(-42.5)"><rect x="-8.9" y="-2.5" width="17.8" height="5"/><path d="M-5.6 -2.5v2M-2.8 -2.5v2.6M0 -2.5v2M2.8 -2.5v2.6M5.6 -2.5v2" stroke-width="0.8"/></g><circle cx="23.9" cy="276.5" r="5.7"/><path d="M28 280.7L30.2 282.9M22 276.5H25.8M23.9 274.6V278.4"/><path d="M19.2 318V310.6A5.5 5.5 0 0 1 30.2 310.6V318H26.6V310.8A1.9 1.9 0 0 0 22.8 310.8V318ZM19.2 315H22.8M26.6 315H30.2"/><g transform="translate(22.4 336.3) rotate(-43)"><rect x="-6.2" y="-1.9" width="12.4" height="3.8" rx="1.5"/><path d="M-3.9 -1.9v3.8" stroke-width="0.8"/></g><rect x="25.5" y="340.6" width="6.2" height="4.4" rx="0.8" stroke-width="1"/><path d="M27 340.6V339.4A1.6 1.6 0 0 1 30.2 339" stroke-width="1"/><rect x="19.2" y="362.2" width="10.8" height="7.4" rx="1"/><path d="M21.6 362.2V360.9A2.8 2.8 0 0 1 27.2 360.3"/><circle cx="24.9" cy="365.9" r="0.9" fill="#555" stroke="none"/><path d="M17.9 386.2C20 382.8 22 381.5 24.3 381.5C26.6 381.5 28.6 382.8 30.7 386.2C28.6 389.6 26.6 390.9 24.3 390.9C22 390.9 20 389.6 17.9 386.2Z"/><circle cx="24.3" cy="386.2" r="2.3"/><path d="M25.2 395.9C25.8 393.9 27.4 393.1 28.6 393.6C29.4 394.4 28.6 395.8 25.2 395.9Z" fill="#777" stroke-width="0.8"/><path d="M29.2 393.4L31.4 392.2" stroke-width="0.9"/><g transform="translate(24.9 414.3) rotate(-41) scale(0.9)"><path d="M-1.4 -2.9H-5.4A2.9 2.9 0 0 0 -5.4 2.9H-1.4M1.4 -2.9H5.4A2.9 2.9 0 0 1 5.4 2.9H1.4M-3 0H3"/></g><path d="M19.2 444.2H30.2M21.8 444.2V443.2A1.2 1.2 0 0 1 23 442H26.4A1.2 1.2 0 0 1 27.6 443.2V444.2M20 444.4L21.3 455.6H28.1L29.4 444.4"/></svg>
<div class="pl" style="top:29.6px">1.18000</div>
<div class="pl" style="top:58.6px">1.17800</div>
<div class="pl" style="top:87.7px">1.17600</div>
<div class="pl" style="top:116.7px">1.17400</div>
<div class="pl" style="top:145.7px">1.17200</div>
<div class="pl" style="top:174.8px">1.17000</div>
<div class="pl" style="top:203.8px">1.16800</div>
<div class="pl" style="top:232.8px">1.16600</div>
<div class="pl" style="top:261.8px">1.16400</div>
<div class="pl" style="top:290.9px">1.16200</div>
<div class="pl" style="top:319.9px">1.16000</div>
<div class="pl" style="top:348.9px">1.15800</div>
<div class="pl" style="top:378.0px">1.15600</div>
<div class="pl" style="top:407.0px">1.15400</div>
<div class="pl" style="top:436.0px">1.15200</div>
<div class="pl" style="top:465.1px">1.15000</div>
<div class="pl" style="top:494.1px">1.14800</div>
<div class="pl" style="top:523.1px">1.14600</div>
<div class="pl" style="top:552.1px">1.14400</div>
<div class="tag" style="top:385.8px;width:27.4px;background:#3aa856">1.16</div>
<div class="tag" style="top:438px;width:27.4px;background:#f4484c">1.15</div>
<div class="tag" style="top:497px;width:27.4px;height:4px;background:#3d5fd6"></div>
<div class="tag" style="top:498.7px;width:42.6px;background:#ea3348">1.14763</div>
<div class="tl b" style="left:55.9px">27</div>
<div class="tl" style="left:95.2px">00:30</div>
<div class="tl" style="left:134.7px">03:00</div>
<div class="tl" style="left:182.0px">06:00</div>
<div class="tl" style="left:229.4px">09:00</div>
<div class="tl" style="left:276.8px">12:00</div>
<div class="tl" style="left:324.1px">15:00</div>
<div class="tl" style="left:371.4px">18:00</div>
<div class="tl" style="left:418.7px">21:00</div>
<div class="tl b" style="left:466.0px">29</div>
<div class="tl" style="left:513.3px">03:00</div>
<div class="tl" style="left:560.7px">06:00</div>
<div class="tl" style="left:608.0px">09:00</div>
<div class="tl" style="left:655.3px">12:00</div>
<div class="tl" style="left:702.7px">15:00</div>
<div class="tl" style="left:750.0px">18:00</div>
<div class="tl" style="left:797.3px">21:00</div>
<div class="tl b" style="left:844.6px">30</div>
<div class="tl" style="left:892.0px">03:00</div>
<div class="tl" style="left:939.3px">06:00</div>
<div class="tl" style="left:986.7px">09:00</div>
<div class="tl" style="left:1034.0px">12:00</div>
<div class="tl" style="left:1081.6px">15:00</div>
<div class="tl" style="left:1129.0px">18:00</div>
<div class="collapse"></div>
<svg class="tb" width="1200" height="90" viewBox="0 0 1200 90"><circle cx="60.3" cy="29.8" r="3.6" fill="#f3d9dd"/><path d="M56.8 29.8A3.6 3.6 0 0 1 60.3 26.2V29.8Z" fill="#5a78c8"/><path d="M60.6 28.2H63.6M60.6 29.9H63.9M60.6 31.6H63.5" stroke="#e0566a" stroke-width="0.8"/><circle cx="55.4" cy="34.1" r="4.5" fill="#fff"/><circle cx="55.4" cy="34.1" r="4" fill="#2f5fb5"/><circle cx="55.4" cy="34.1" r="1.9" fill="none" stroke="#5f86cc" stroke-width="0.7" stroke-dasharray="0.7 0.8"/><path d="M255 28.6H263.2L261.2 32.3L263.2 36H255Z" fill="#f0444f"/><circle cx="282.4" cy="32.4" r="5.6" fill="#d3eee8"/><circle cx="282.4" cy="32.4" r="2.5" fill="#1f8f72"/><path d="M57.1 76.9L59.2 78.9L61.3 76.9" fill="none" stroke="#222" stroke-width="1.2" stroke-linecap="round" stroke-linejoin="round"/></svg>
<div class="abs title">Euro / U.S. Dollar &middot; 10 &middot; CMC Markets</div>
<div class="abs ohlc k" style="left:300.0px">O</div>
<div class="abs ohlc v" style="left:307.4px">1.14769</div>
<div class="abs ohlc k" style="left:347.4px">H</div>
<div class="abs ohlc v" style="left:354.2px">1.14787</div>
<div class="abs ohlc k" style="left:394.4px">L</div>
<div class="abs ohlc v" style="left:400.4px">1.14755</div>
<div class="abs ohlc k" style="left:440.0px">C</div>
<div class="abs ohlc v" style="left:447.9px">1.14763</div>
<div class="abs ohlc v" style="left:487.5px">−0.00004 (−0.00%)</div>
<div class="box sell"><div class="p">1.1476<sup>3</sup></div><div class="l">SELL</div></div>
<div class="abs" style="left:105.8px;top:50.6px;font-size:7.6px;color:#666">0.0</div>
<div class="box buy"><div class="p">1.1476<sup>3</sup></div><div class="l">BUY</div></div>
<svg class="tb" width="1200" height="616" viewBox="0 0 1200 616"><path d="M53.3 556.3H61.4V566.2H57.6V560.1H53.3Z" fill="#111"/><circle cx="64.1" cy="558.2" r="1.85" fill="#111"/><path d="M68.6 556.3H74.3L69.9 566.2H64.3Z" fill="#111"/><clipPath id="cp"><rect x="1140" y="555" width="12.4" height="26"/></clipPath><g clip-path="url(#cp)"><circle cx="1152.4" cy="567.8" r="6.6" fill="none" stroke="#a653c2" stroke-width="1"/><path d="M1151.6 565.2L1150.2 568.2H1152L1151 571" stroke="#a653c2" stroke-width="0.9" fill="none"/></g><path d="M1170.6 586.3L1173.1 582H1178.1L1180.6 586.3L1178.1 590.6H1173.1Z" fill="none" stroke="#444" stroke-width="1" stroke-linejoin="round"/><circle cx="1175.6" cy="586.3" r="1.2" fill="none" stroke="#444" stroke-width="0.9"/></svg>
</div></body></html>
